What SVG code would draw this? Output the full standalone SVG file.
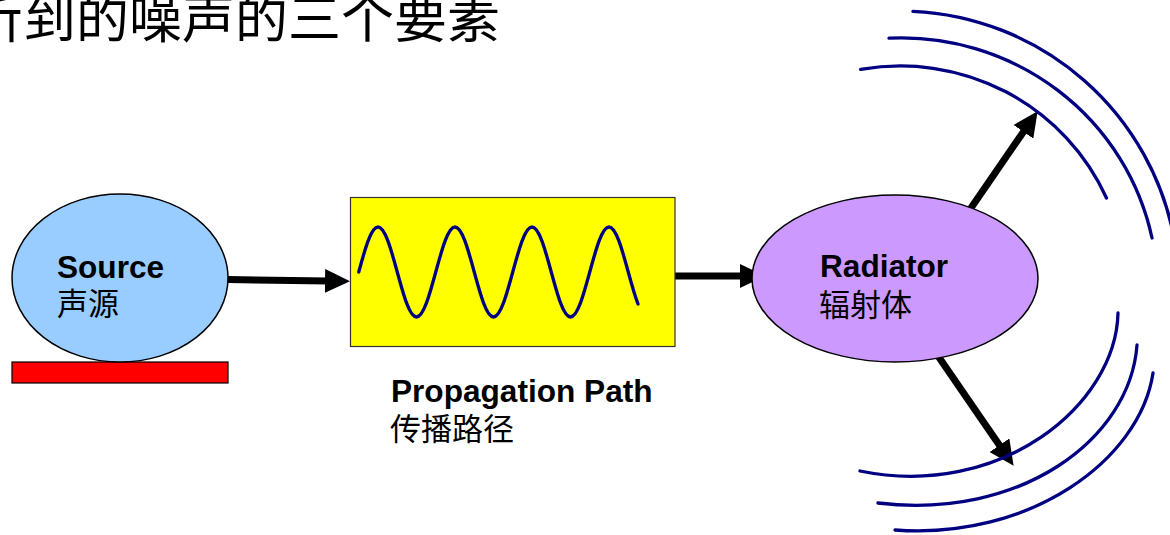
<svg xmlns="http://www.w3.org/2000/svg" width="1170" height="535" viewBox="0 0 1170 535">
<style>
.lat{font-family:"Liberation Sans",Arial,sans-serif;font-weight:bold;font-size:31.6px;fill:#000}
.cjk{font-family:"Liberation Sans","Noto Sans CJK SC",sans-serif;font-size:31px;fill:#000}
.title{font-family:"Noto Sans CJK SC",sans-serif;font-size:53px;fill:#000}
.wave{fill:none;stroke:#000080;stroke-width:3.3;stroke-linecap:round}
.conn{stroke:#000;stroke-width:7;fill:none}
</style>
<defs>
<marker id="ah" markerUnits="userSpaceOnUse" markerWidth="26" markerHeight="24" refX="4" refY="12" orient="auto">
<path d="M0,0 L25,12 L0,24 Z" fill="#000"/>
</marker>
</defs>
<rect width="1170" height="535" fill="#fff"/>
<text class="title" x="-30" y="38">听到的噪声的三个要素</text>
<g id="connectors">
<line class="conn" x1="228" y1="279.5" x2="329" y2="281" marker-end="url(#ah)"/>
<line class="conn" x1="675" y1="276" x2="744" y2="276" marker-end="url(#ah)"/>
<line class="conn" x1="960" y1="224" x2="1025.7" y2="128.5" marker-end="url(#ah)"/>
<line class="conn" x1="936" y1="353" x2="1001.7" y2="448.5" marker-end="url(#ah)"/>
</g>
<g id="source">
<rect x="12" y="362" width="216" height="21" fill="#ff0000" stroke="#000" stroke-width="1.2"/>
<ellipse cx="120" cy="278" rx="108" ry="84" fill="#99ccff" stroke="#000" stroke-width="1.5"/>
<text class="lat" x="57" y="278">Source</text>
<text class="cjk" x="57" y="315">声源</text>
</g>
<g id="path">
<rect x="350.5" y="197.5" width="324.5" height="149" fill="#ffff00" stroke="#333" stroke-width="1.2"/>
<path class="wave" d="M358.75,272 C365.03,248.95 371.03,227 378,227 s12.97,21.95 19.25,45 s12.28,45 19.25,45 s12.97,-21.95 19.25,-45 s12.28,-45 19.25,-45 s12.97,21.95 19.25,45 s12.28,45 19.25,45 s12.97,-21.95 19.25,-45 s12.28,-45 19.25,-45 s12.97,21.95 19.25,45 s12.28,45 19.25,45 s12.97,-21.95 19.25,-45 s12.28,-45 19.25,-45 s12.97,21.95 19.25,45 C631.5,283.9 634.75,295.6 638,304"/>
<text class="lat" x="391" y="402">Propagation Path</text>
<text class="cjk" x="390" y="440">传播路径</text>
</g>
<g id="radiator">
<ellipse cx="895" cy="278.5" rx="143" ry="83.5" fill="#cc99ff" stroke="#000" stroke-width="1.5"/>
<text class="lat" x="820" y="277">Radiator</text>
<text class="cjk" x="819" y="316">辐射体</text>
</g>
<g id="waves">
<path class="wave" d="M860.7,69.4 A226,224 0 0 1 1106.5,198"/>
<path class="wave" d="M889,38.2 A256,252 0 0 1 1152,238"/>
<path class="wave" d="M912.9,11.3 A279,279 0 0 1 1174.5,240"/>
<path class="wave" d="M1118,313 C1116,405 1000,500 860,471"/>
<path class="wave" d="M1137,345 C1130,440 1020,520 878,503"/>
<path class="wave" d="M1153,373 C1140,460 1030,540 895,530"/>
</g>
</svg>
